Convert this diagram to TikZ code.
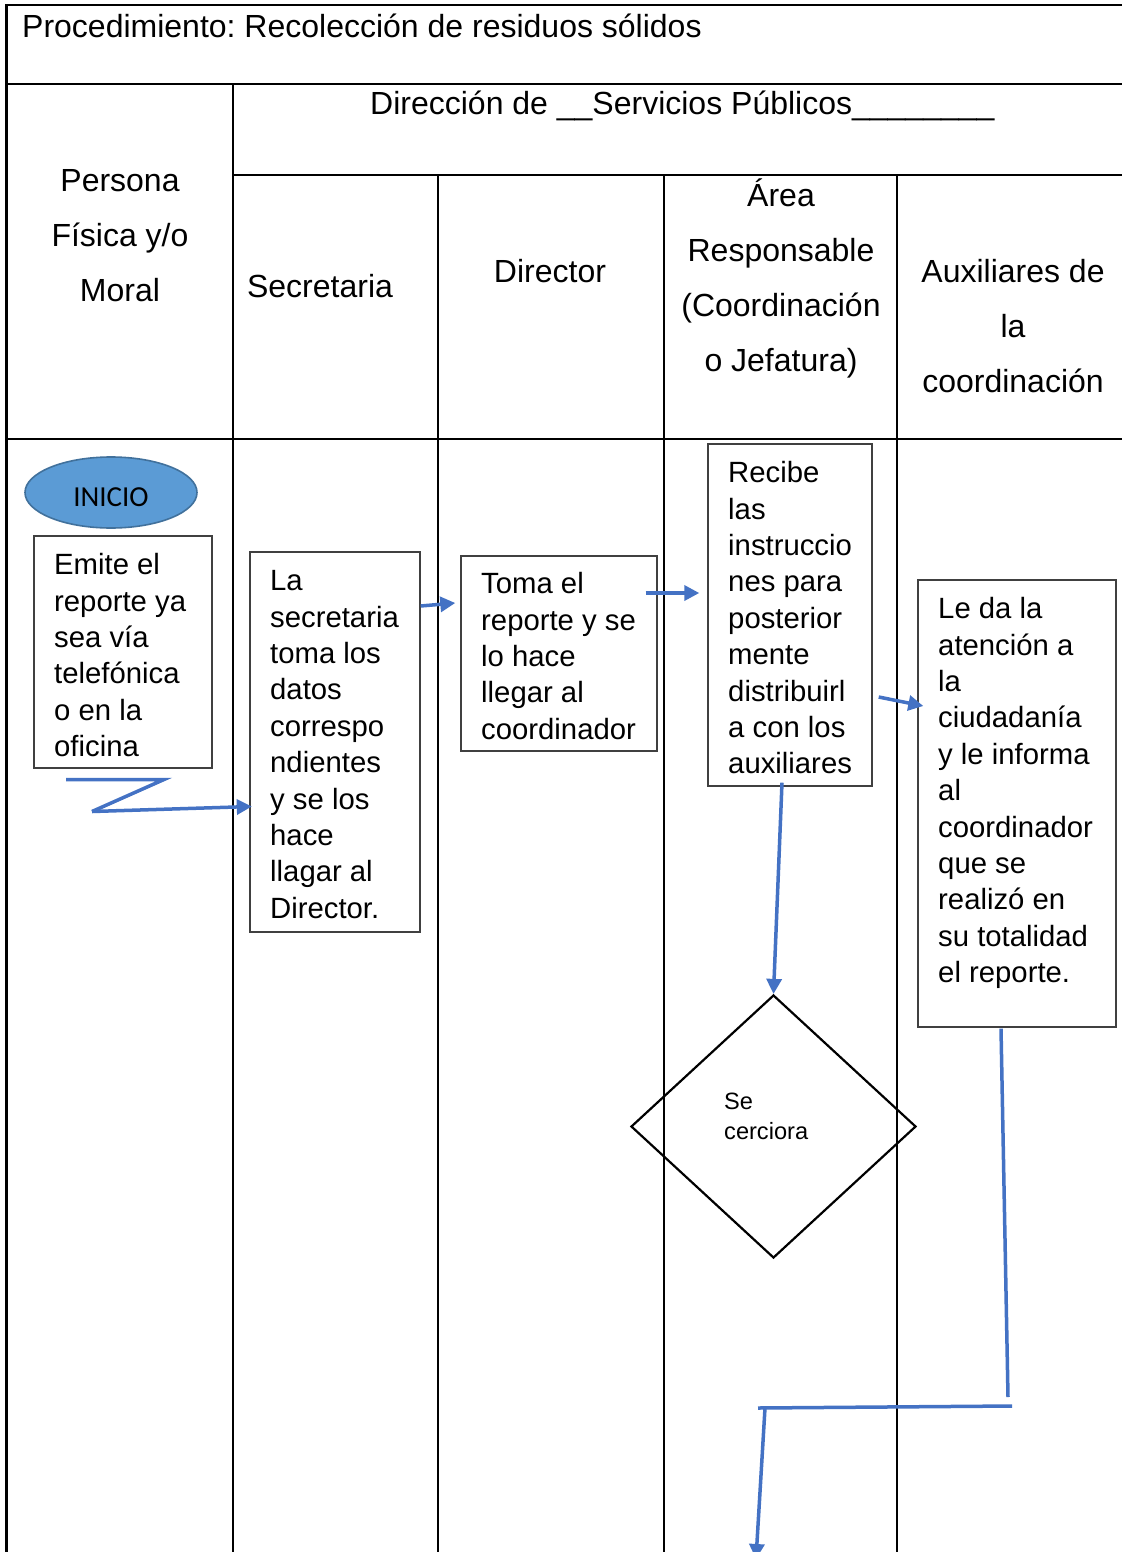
\documentclass[tikz,border=0pt]{standalone}
\usepackage{fontspec}
\setmainfont{Liberation Sans}
\newfontfamily\calib{Carlito}
\usetikzlibrary{arrows.meta,shapes.geometric,calc}
\frenchspacing
\definecolor{flowblue}{RGB}{68,114,196}
\definecolor{startfill}{RGB}{91,155,213}
\definecolor{startline}{RGB}{65,113,156}
\newcommand{\hstrut}{\rule{0pt}{33pt}}
\newcommand{\bstrut}{\rule{0pt}{25pt}}
\newcommand{\sstrut}{\rule{0pt}{21pt}}
\tikzset{
  grid/.style={line width=2.2pt, black},
  procbox/.style={draw=black!75, line width=1.4pt, rectangle, inner sep=0pt},
  headtext/.style={inner sep=0pt, font=\fontsize{32pt}{55pt}\selectfont},
  boxtext/.style={inner sep=0pt, align=left, anchor=north west, font=\fontsize{29.3pt}{36.4pt}\selectfont},
  flow/.style={line width=3.5pt, flowblue, -{Triangle[length=15pt,width=15pt]}},
  flowline/.style={line width=3.5pt, flowblue},
}
\begin{document}
\begin{tikzpicture}[x=1pt,y=-1pt]
\useasboundingbox (0,0) rectangle (1122,1552);
\fill[white] (0,0) rectangle (1122,1552);

% table frame
\draw[grid] (6.5,1552) -- (6.5,5) -- (1122,5);
\draw[grid] (6.5,84) -- (1122,84);
\draw[grid] (233,175) -- (1122,175);
\draw[grid] (6.5,439) -- (1122,439);
\draw[grid] (233,84) -- (233,1552);
\draw[grid] (438,175) -- (438,1552);
\draw[grid] (664,175) -- (664,1552);
\draw[grid] (897,175) -- (897,1552);

% header texts
\node[headtext, anchor=base west] (title) at (22,37.5) {Procedimiento: Recolección de residuos sólidos};
\node[headtext, anchor=base west] (direccion) at (370,114.5) {Dirección de \_\_Servicios Públicos\_\_\_\_\_\_\_\_};
\node[headtext, anchor=north, align=center] (persona) at (120,158.5) {\hstrut Persona\\Física y/o\\Moral};
\node[headtext, anchor=base] (hsec) at (320,297.5) {Secretaria};
\node[headtext, anchor=base] (hdir) at (550,282.5) {Director};
\node[headtext, anchor=north, align=center] (harea) at (781,173.5) {\hstrut Área\\Responsable\\(Coordinación\\o Jefatura)};
\node[headtext, anchor=north, align=center] (haux) at (1013,249.5) {\hstrut Auxiliares de\\la\\coordinación};

% start terminal
\node[ellipse, draw=startline, line width=1.6pt, fill=startfill, minimum width=172pt, minimum height=71pt, inner sep=0pt,
      font=\calib\fontsize{29pt}{34pt}\selectfont] (inicio) at (111,492.5) {\raisebox{-14pt}[0pt][0pt]{INICIO}};

% process boxes
\node[procbox, minimum width=178pt, minimum height=232pt] (emite) at (123,652) {};
\node[procbox, minimum width=170pt, minimum height=380pt] (sec) at (335,742) {};
\node[procbox, minimum width=196pt, minimum height=195pt] (dir) at (559,653.5) {};
\node[procbox, minimum width=164pt, minimum height=342pt] (area) at (790,615) {};
\node[procbox, minimum width=198pt, minimum height=447pt] (aux) at (1017,803.5) {};

\node[boxtext] (emiteT) at (54,549.5) {\bstrut Emite el\\reporte ya\\sea vía\\telefónica\\o en la\\oficina};
\node[boxtext] (secT) at (270,565.5) {\bstrut La\\secretaria\\toma los\\datos\\correspo\\ndientes\\y se los\\hace\\llagar al\\Director.};
\node[boxtext] (dirT) at (481,568.5) {\bstrut Toma el\\reporte y se\\lo hace\\llegar al\\coordinador};
\node[boxtext] (areaT) at (728,457.5) {\bstrut Recibe\\las\\instruccio\\nes para\\posterior\\mente\\distribuirl\\a con los\\auxiliares};
\node[boxtext] (auxT) at (938,593.5) {\bstrut Le da la\\atención a\\la\\ciudadanía\\y le informa\\al\\coordinador\\que se\\realizó en\\su totalidad\\el reporte.};

% decision
\node[diamond, draw, line width=2.2pt, minimum width=285pt, minimum height=263pt, inner sep=0pt] (dia) at (773.5,1126.5) {};
\node[inner sep=0pt, align=left, anchor=north west, font=\fontsize{23.6pt}{30pt}\selectfont] (diaT) at (724,1088.5) {\sstrut Se\\cerciora};

% connectors
\coordinate (z1) at (66,779.5);
\coordinate (z2) at (164,779.5);
\coordinate (z3) at (92,811.5);
\draw[flowline] (z1) -- (z2) -- (z3);
\draw[flow] (z3) -- ($(sec.west)+(2.5,64.5)$);

\draw[flow] ($(sec.east)+(0,-136)$) -- ($(dir.west)+(-5,-50.5)$);
\draw[flow] ($(dir.east)+(-12,-60.5)$) -- ($(area.west)+(-8,-22)$);
\draw[flow] ($(area.east)+(6,82)$) -- ($(aux.west)+(6,-97.5)$);
\draw[flow] ($(area.south)+(-8,-4)$) -- (dia.north);

\coordinate (k1) at (1008,1397);
\coordinate (k2) at (1012,1406);
\coordinate (k3) at (758,1408);
\coordinate (k4) at (765,1408);
\coordinate (k5) at (756,1559);
\draw[flowline] ($(aux.south)+(-16,1)$) -- (k1);
\draw[flowline] (k2) -- (k3);
\draw[flow] (k4) -- (k5);
\end{tikzpicture}
\end{document}
